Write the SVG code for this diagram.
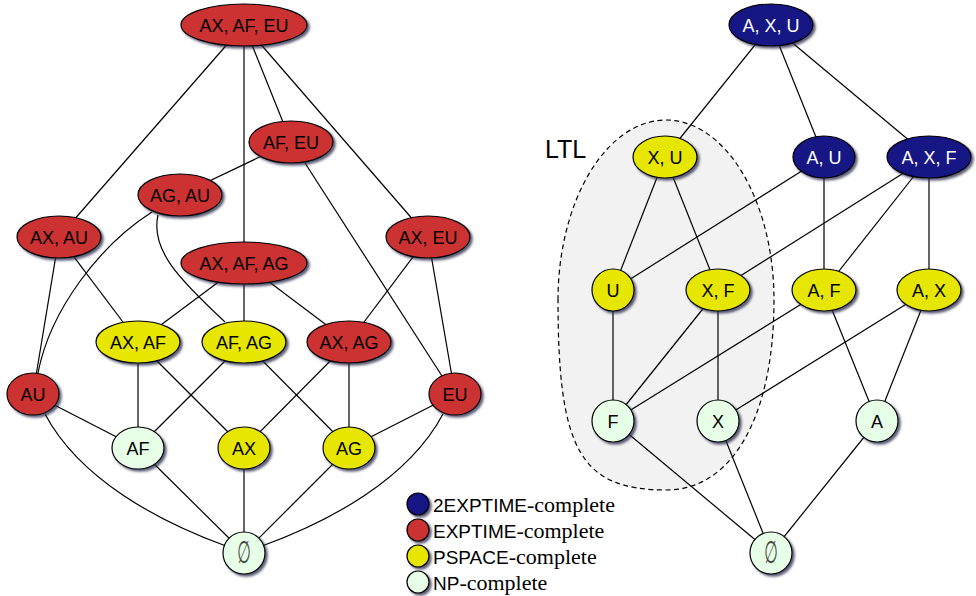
<svg xmlns="http://www.w3.org/2000/svg" width="976" height="596" viewBox="0 0 976 596">
<defs>
<filter id="sh" x="-30%" y="-30%" width="160%" height="160%">
<feDropShadow dx="2.2" dy="2.2" stdDeviation="1.1" flood-color="#2a2a48" flood-opacity="0.75"/>
</filter>
</defs>
<style>
.e{stroke:#000;stroke-width:1.2;fill:none}
.n{stroke:#000;stroke-width:1.2;filter:url(#sh)}
.red{fill:#CC3333}
.yel{fill:#E6E600}
.blu{fill:#141485}
.grn{fill:#E6FFE6}
.t{font-family:"Liberation Sans",Arial,sans-serif;font-size:18px;text-anchor:middle;fill:#000}
.w{fill:#fff}
.es{font-family:"DejaVu Sans",sans-serif;font-size:26px;text-anchor:middle;fill:#444}
.lg{font-family:"Liberation Sans",Arial,sans-serif;font-size:19px;fill:#000}
.lgs{font-family:"Liberation Serif","Times New Roman",serif;font-size:22px}
</style>
<rect width="976" height="596" fill="#fff"/>
<g id="ltl-region">
<path d="M558,300 A108,180 0 0 1 774,300 C774,420 730,490 667,490 C580,490 558,450 558,300 Z" fill="#F2F2F2" stroke="#000" stroke-width="1.2" stroke-dasharray="5,3.5"/>
<text x="545" y="158" font-family="Liberation Sans,Arial,sans-serif" font-size="25" fill="#000">LTL</text>
</g>
<g id="connectors">
<line class="e" x1="244" y1="25" x2="59" y2="237"/>
<line class="e" x1="244" y1="25" x2="244" y2="263"/>
<line class="e" x1="244" y1="25" x2="291" y2="142"/>
<line class="e" x1="244" y1="25" x2="428" y2="237"/>
<line class="e" x1="291" y1="142" x2="180" y2="195"/>
<line class="e" x1="305" y1="163" x2="442" y2="376"/>
<path class="e" d="M152,212 C100,245 50,310 38,373"/>
<path class="e" d="M158,215 C150,250 180,280 225,322"/>
<line class="e" x1="59" y1="237" x2="33" y2="394"/>
<line class="e" x1="59" y1="237" x2="138" y2="342"/>
<line class="e" x1="428" y1="237" x2="349" y2="342"/>
<line class="e" x1="428" y1="237" x2="455" y2="394"/>
<line class="e" x1="244" y1="263" x2="138" y2="342"/>
<line class="e" x1="244" y1="263" x2="244" y2="342"/>
<line class="e" x1="244" y1="263" x2="349" y2="342"/>
<line class="e" x1="138" y1="342" x2="138" y2="448"/>
<line class="e" x1="138" y1="342" x2="244" y2="448"/>
<line class="e" x1="244" y1="342" x2="138" y2="448"/>
<line class="e" x1="244" y1="342" x2="349" y2="448"/>
<line class="e" x1="349" y1="342" x2="244" y2="448"/>
<line class="e" x1="349" y1="342" x2="349" y2="448"/>
<line class="e" x1="33" y1="394" x2="138" y2="448"/>
<line class="e" x1="455" y1="394" x2="349" y2="448"/>
<path class="e" d="M45,414 C80,480 160,522 226,546"/>
<path class="e" d="M443,414 C408,480 328,522 262,546"/>
<line class="e" x1="138" y1="448" x2="244" y2="553"/>
<line class="e" x1="244" y1="448" x2="244" y2="553"/>
<line class="e" x1="349" y1="448" x2="244" y2="553"/>
<line class="e" x1="771" y1="25" x2="665" y2="157"/>
<line class="e" x1="771" y1="25" x2="824" y2="157"/>
<line class="e" x1="771" y1="25" x2="929" y2="157"/>
<line class="e" x1="665" y1="157" x2="613" y2="290"/>
<line class="e" x1="665" y1="157" x2="718" y2="290"/>
<line class="e" x1="824" y1="157" x2="613" y2="290"/>
<line class="e" x1="824" y1="157" x2="824" y2="290"/>
<line class="e" x1="929" y1="157" x2="718" y2="290"/>
<line class="e" x1="929" y1="157" x2="824" y2="290"/>
<line class="e" x1="929" y1="157" x2="929" y2="290"/>
<line class="e" x1="613" y1="290" x2="613" y2="421"/>
<line class="e" x1="718" y1="290" x2="613" y2="421"/>
<line class="e" x1="718" y1="290" x2="718" y2="421"/>
<line class="e" x1="824" y1="290" x2="613" y2="421"/>
<line class="e" x1="824" y1="290" x2="877" y2="421"/>
<line class="e" x1="929" y1="290" x2="718" y2="421"/>
<line class="e" x1="929" y1="290" x2="877" y2="421"/>
<line class="e" x1="613" y1="421" x2="771" y2="553"/>
<line class="e" x1="718" y1="421" x2="771" y2="553"/>
<line class="e" x1="877" y1="421" x2="771" y2="553"/>
</g>
<g id="n-ax-af-eu"><ellipse class="n red" cx="244" cy="25" rx="63" ry="21"/><text class="t" x="244" y="31.5">AX, AF, EU</text></g>
<g id="n-af-eu"><ellipse class="n red" cx="291" cy="142" rx="42" ry="21"/><text class="t" x="291" y="148.5">AF, EU</text></g>
<g id="n-ag-au"><ellipse class="n red" cx="180" cy="195" rx="42" ry="21"/><text class="t" x="180" y="201.5">AG, AU</text></g>
<g id="n-ax-au"><ellipse class="n red" cx="59" cy="237" rx="42" ry="21"/><text class="t" x="59" y="243.5">AX, AU</text></g>
<g id="n-ax-eu"><ellipse class="n red" cx="428" cy="237" rx="42" ry="21"/><text class="t" x="428" y="243.5">AX, EU</text></g>
<g id="n-ax-af-ag"><ellipse class="n red" cx="244" cy="263" rx="63" ry="21"/><text class="t" x="244" y="269.5">AX, AF, AG</text></g>
<g id="n-ax-af"><ellipse class="n yel" cx="138" cy="342" rx="42" ry="21"/><text class="t" x="138" y="348.5">AX, AF</text></g>
<g id="n-af-ag"><ellipse class="n yel" cx="244" cy="342" rx="42" ry="21"/><text class="t" x="244" y="348.5">AF, AG</text></g>
<g id="n-ax-ag"><ellipse class="n red" cx="349" cy="342" rx="42" ry="21"/><text class="t" x="349" y="348.5">AX, AG</text></g>
<g id="n-au"><ellipse class="n red" cx="33" cy="394" rx="26" ry="21"/><text class="t" x="33" y="400.5">AU</text></g>
<g id="n-eu"><ellipse class="n red" cx="455" cy="394" rx="26" ry="21"/><text class="t" x="455" y="400.5">EU</text></g>
<g id="n-af"><ellipse class="n grn" cx="138" cy="448" rx="26" ry="21"/><text class="t" x="138" y="454.5">AF</text></g>
<g id="n-ax"><ellipse class="n yel" cx="244" cy="448" rx="26" ry="21"/><text class="t" x="244" y="454.5">AX</text></g>
<g id="n-ag"><ellipse class="n yel" cx="349" cy="448" rx="26" ry="21"/><text class="t" x="349" y="454.5">AG</text></g>
<g id="n-empty-l"><ellipse class="n grn" cx="244" cy="553" rx="21" ry="21"/><text class="es" transform="translate(244,563) scale(0.6,1.2)">∅</text></g>
<g id="n-a-x-u"><ellipse class="n blu" cx="771" cy="25" rx="42" ry="21"/><text class="t w" x="771" y="31.5">A, X, U</text></g>
<g id="n-x-u"><ellipse class="n yel" cx="665" cy="157" rx="32" ry="21"/><text class="t" x="665" y="163.5">X, U</text></g>
<g id="n-a-u"><ellipse class="n blu" cx="824" cy="157" rx="31" ry="21"/><text class="t w" x="824" y="163.5">A, U</text></g>
<g id="n-a-x-f"><ellipse class="n blu" cx="929" cy="157" rx="42" ry="21"/><text class="t w" x="929" y="163.5">A, X, F</text></g>
<g id="n-u"><ellipse class="n yel" cx="613" cy="290" rx="21" ry="21"/><text class="t" x="613" y="296.5">U</text></g>
<g id="n-x-f"><ellipse class="n yel" cx="718" cy="290" rx="32" ry="21"/><text class="t" x="718" y="296.5">X, F</text></g>
<g id="n-a-f"><ellipse class="n yel" cx="824" cy="290" rx="32" ry="21"/><text class="t" x="824" y="296.5">A, F</text></g>
<g id="n-a-x"><ellipse class="n yel" cx="929" cy="290" rx="32" ry="21"/><text class="t" x="929" y="296.5">A, X</text></g>
<g id="n-f"><ellipse class="n grn" cx="613" cy="421" rx="21" ry="21"/><text class="t" x="613" y="427.5">F</text></g>
<g id="n-x"><ellipse class="n grn" cx="718" cy="421" rx="21" ry="21"/><text class="t" x="718" y="427.5">X</text></g>
<g id="n-a"><ellipse class="n grn" cx="877" cy="421" rx="21" ry="21"/><text class="t" x="877" y="427.5">A</text></g>
<g id="n-empty-r"><ellipse class="n grn" cx="771" cy="553" rx="21" ry="21"/><text class="es" transform="translate(771,563) scale(0.6,1.2)">∅</text></g>
<g id="legend">
<circle class="n blu" cx="418" cy="504" r="11"/>
<circle class="n red" cx="418" cy="530" r="11"/>
<circle class="n yel" cx="418" cy="556" r="11"/>
<circle class="n grn" cx="418" cy="582" r="11"/>
<text class="lg" x="433" y="512">2EXPTIME<tspan class="lgs">-complete</tspan></text>
<text class="lg" x="433" y="538">EXPTIME<tspan class="lgs">-complete</tspan></text>
<text class="lg" x="433" y="564">PSPACE<tspan class="lgs">-complete</tspan></text>
<text class="lg" x="433" y="590">NP<tspan class="lgs">-complete</tspan></text>
</g>
</svg>
